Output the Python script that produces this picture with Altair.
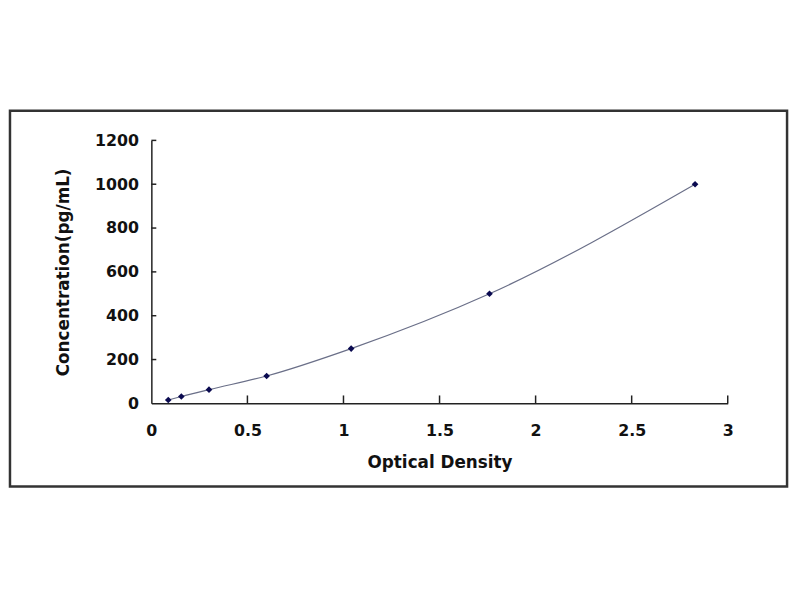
import pandas as pd
import altair as alt

# standard curve readings
od = [0.088, 0.156, 0.30, 0.60, 1.04, 1.76, 2.83]
conc = [15.6, 31.25, 62.5, 125, 250, 500, 1000]

x_ticks = [0.5, 1, 1.5, 2, 2.5, 3]
y_ticks = [200, 400, 600, 800, 1000, 1200]

W, H = 583, 266
FONT = 'DejaVu Sans'

df = pd.DataFrame({'od': od, 'conc': conc})

xs = alt.Scale(domain=[0, 3], nice=False)
ys = alt.Scale(domain=[0, 1200], nice=False)

x_ax = alt.Axis(values=[0] + x_ticks, ticks=False, grid=False, labelExpr="'' + datum.value",
                labelPadding=19, titlePadding=17, labelFlush=False)
y_ax = alt.Axis(values=[0] + y_ticks, ticks=False, grid=False, labelExpr="'' + datum.value",
                labelPadding=13, titlePadding=22, labelFlush=False)

curve = alt.Chart(df).mark_line(interpolate='monotone', color='#6a6f88', strokeWidth=1.2).encode(
    alt.X('od:Q', title='Optical Density', scale=xs, axis=x_ax),
    alt.Y('conc:Q', title='Concentration(pg/mL)', scale=ys, axis=y_ax),
)

pts = alt.Chart(df).mark_point(shape='diamond', filled=True, color='#0a0a50', size=45, opacity=1).encode(
    x=alt.X('od:Q', scale=xs), y=alt.Y('conc:Q', scale=ys)
)

xt = alt.Chart(pd.DataFrame({'v': x_ticks})).mark_rule(color='#222', strokeWidth=1.5).encode(
    x=alt.X('v:Q', scale=xs), y=alt.value(H), y2=alt.value(H - 8)
)
yt = alt.Chart(pd.DataFrame({'v': y_ticks})).mark_rule(color='#222', strokeWidth=1.5).encode(
    y=alt.Y('v:Q', scale=ys), x=alt.value(0), x2=alt.value(5)
)

# outer frame round the whole figure
frame = alt.Chart(alt.Data(values=[{}])).mark_rect(
    fill=None, stroke='#333333', strokeWidth=2.5, clip=False
).encode(x=alt.value(-143), x2=alt.value(643), y=alt.value(-30), y2=alt.value(350))

chart = (frame + curve + xt + yt + pts).properties(
    width=W, height=H,
    autosize=alt.AutoSizeParams(type='none'),
    padding={'left': 145, 'top': 131, 'right': 65, 'bottom': 110},
    background='white',
).configure_view(stroke=None).configure_axis(
    domainColor='#222', domainWidth=1.5,
    labelFont=FONT, labelFontSize=16, labelFontWeight='bold', labelColor='#111',
    titleFont=FONT, titleFontSize=17, titleFontWeight='bold', titleColor='#111',
)

chart.save("out.html", embed_options={"renderer": "svg", "actions": False})
